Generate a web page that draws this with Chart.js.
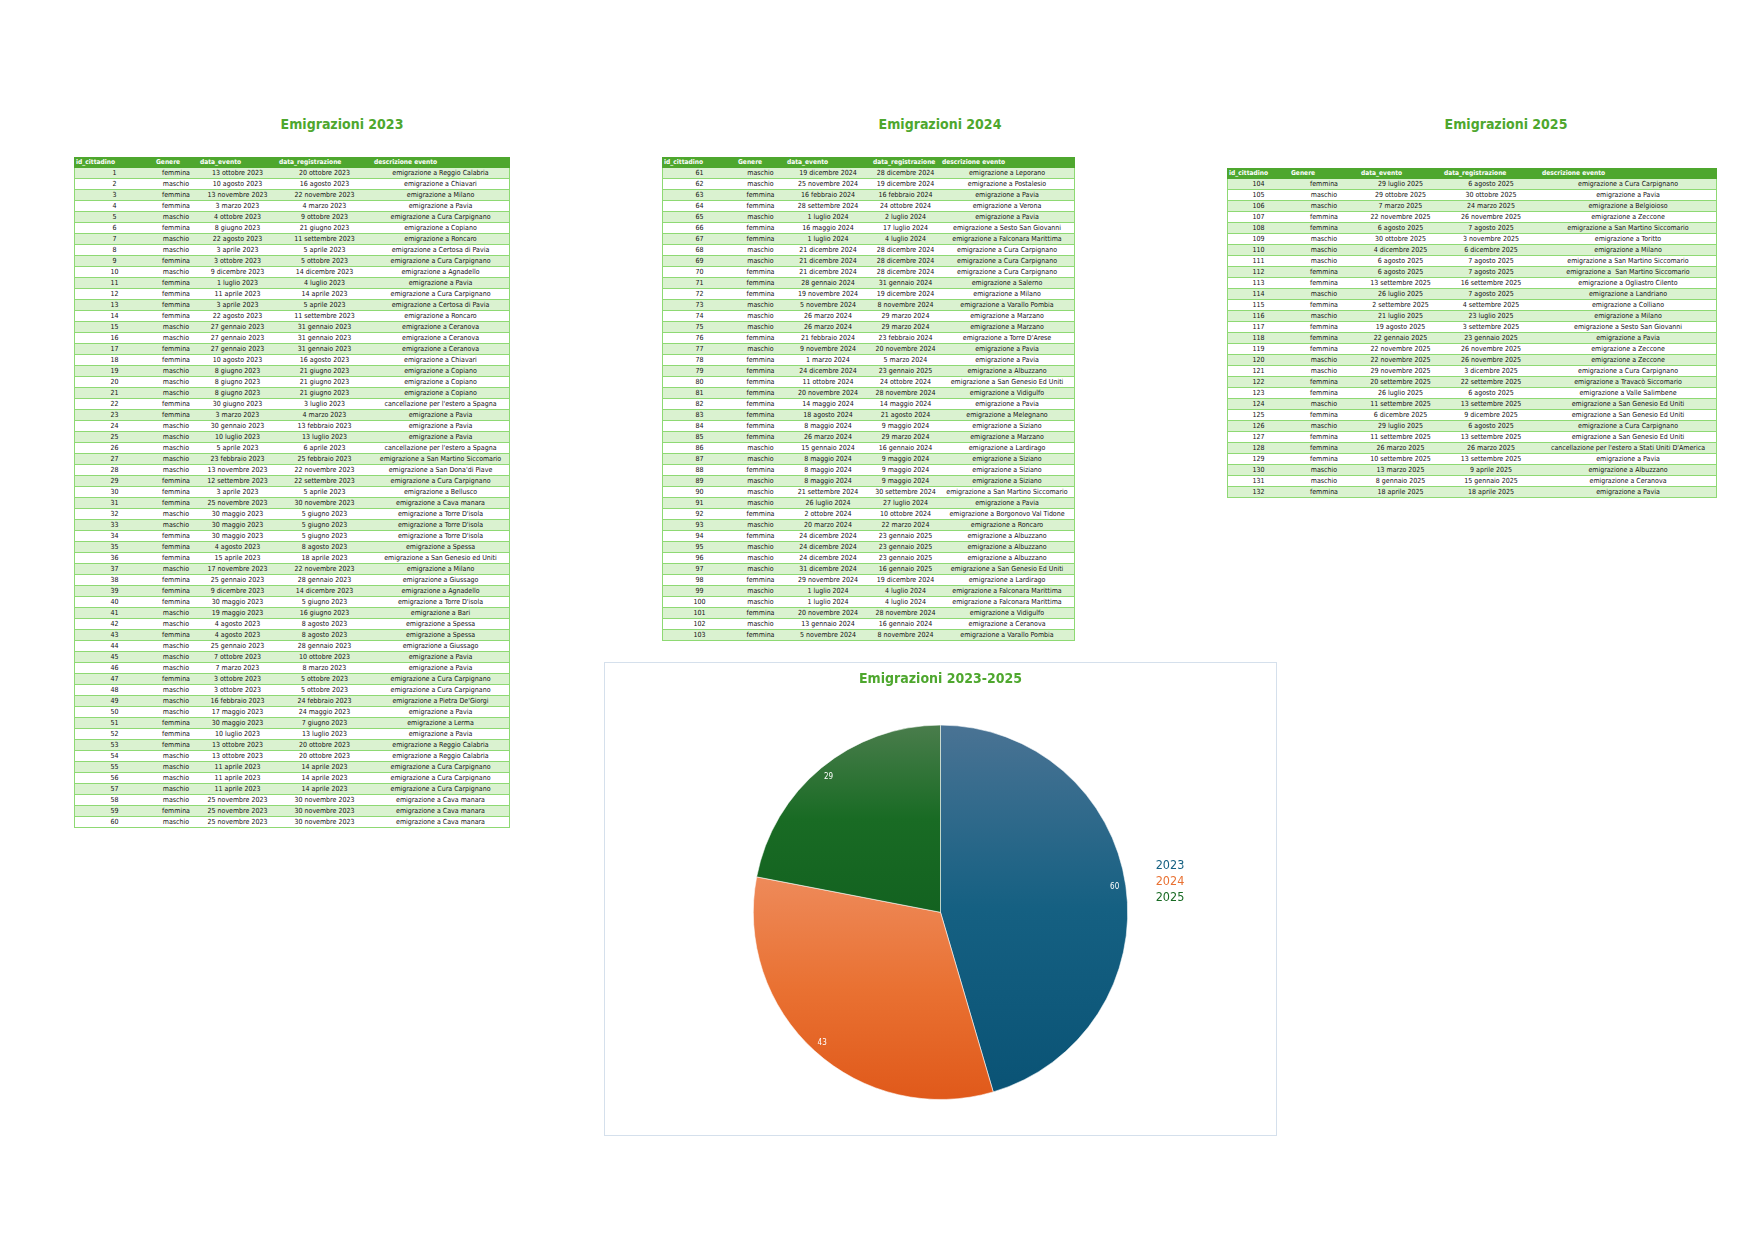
<!DOCTYPE html>
<html lang="it">
<head>
<meta charset="utf-8">
<title>Emigrazioni 2023-2025</title>
<script src="https://cdn.jsdelivr.net/npm/chart.js@4.4.1/dist/chart.umd.min.js"></script>
<style>
  html, body { margin: 0; padding: 0; background: #fff; }
  #pagina { position: relative; width: 1755px; height: 1241px; overflow: hidden; }
  .titolo {
    position: absolute; top: 117px; transform: translateX(-50%);
    font: bold 14px 'DejaVu Sans Condensed', 'Liberation Sans', sans-serif;
    line-height: 14px; color: #4EA72E; white-space: nowrap;
  }
  table.tab {
    position: absolute; border-collapse: separate; border-spacing: 0; table-layout: fixed;
    font-family: 'DejaVu Sans Condensed', 'Liberation Sans', sans-serif;
    font-size: 7px; color: #111;
  }
  table.tab th {
    background: #4EA72E; color: #fff; font-weight: bold; font-size: 6.6px; text-align: left;
    height: 11px; box-sizing: border-box; padding: 0 0 0 2px; line-height: 11px;
    white-space: nowrap; overflow: visible;
  }
  table.tab td {
    height: 11px; box-sizing: border-box; padding: 0; line-height: 10px;
    text-align: center; white-space: nowrap; overflow: visible;
    border-bottom: 1px solid #8ED973; background: #fff;
  }
  table.tab tbody tr:nth-child(odd) td { background: #DAF2D0; }
  table.tab td:first-child { border-left: 1px solid #8ED973; }
  table.tab td:last-child { border-right: 1px solid #8ED973; }
  #boxTorta {
    position: absolute; left: 604px; top: 662px; width: 673px; height: 474px;
    border: 1px solid #D5E0EC; box-sizing: border-box; background: #fff;
  }
  #boxTorta canvas { display: block; }
</style>
</head>
<body>
<div id="pagina">
  <div class="titolo" style="left:342px">Emigrazioni 2023</div>
  <div class="titolo" style="left:940px">Emigrazioni 2024</div>
  <div class="titolo" style="left:1506px">Emigrazioni 2025</div>
  <table class="tab" id="tab2023"></table>
  <table class="tab" id="tab2024"></table>
  <table class="tab" id="tab2025"></table>
  <div id="boxTorta"><canvas id="torta" width="671" height="472"></canvas></div>
</div>
<script>
// intestazioni delle tabelle
var colonne = ['id_cittadino', 'Genere', 'data_evento', 'data_registrazione', 'descrizione evento'];

// righe: id, genere, data evento, data registrazione, descrizione
var righe2023 = [
  [1, 'femmina', '13 ottobre 2023', '20 ottobre 2023', 'emigrazione a Reggio Calabria'],
  [2, 'maschio', '10 agosto 2023', '16 agosto 2023', 'emigrazione a Chiavari'],
  [3, 'femmina', '13 novembre 2023', '22 novembre 2023', 'emigrazione a Milano'],
  [4, 'femmina', '3 marzo 2023', '4 marzo 2023', 'emigrazione a Pavia'],
  [5, 'maschio', '4 ottobre 2023', '9 ottobre 2023', 'emigrazione a Cura Carpignano'],
  [6, 'femmina', '8 giugno 2023', '21 giugno 2023', 'emigrazione a Copiano'],
  [7, 'maschio', '22 agosto 2023', '11 settembre 2023', 'emigrazione a Roncaro'],
  [8, 'maschio', '3 aprile 2023', '5 aprile 2023', 'emigrazione a Certosa di Pavia'],
  [9, 'femmina', '3 ottobre 2023', '5 ottobre 2023', 'emigrazione a Cura Carpignano'],
  [10, 'maschio', '9 dicembre 2023', '14 dicembre 2023', 'emigrazione a Agnadello'],
  [11, 'femmina', '1 luglio 2023', '4 luglio 2023', 'emigrazione a Pavia'],
  [12, 'femmina', '11 aprile 2023', '14 aprile 2023', 'emigrazione a Cura Carpignano'],
  [13, 'femmina', '3 aprile 2023', '5 aprile 2023', 'emigrazione a Certosa di Pavia'],
  [14, 'femmina', '22 agosto 2023', '11 settembre 2023', 'emigrazione a Roncaro'],
  [15, 'maschio', '27 gennaio 2023', '31 gennaio 2023', 'emigrazione a Ceranova'],
  [16, 'maschio', '27 gennaio 2023', '31 gennaio 2023', 'emigrazione a Ceranova'],
  [17, 'femmina', '27 gennaio 2023', '31 gennaio 2023', 'emigrazione a Ceranova'],
  [18, 'femmina', '10 agosto 2023', '16 agosto 2023', 'emigrazione a Chiavari'],
  [19, 'maschio', '8 giugno 2023', '21 giugno 2023', 'emigrazione a Copiano'],
  [20, 'maschio', '8 giugno 2023', '21 giugno 2023', 'emigrazione a Copiano'],
  [21, 'maschio', '8 giugno 2023', '21 giugno 2023', 'emigrazione a Copiano'],
  [22, 'femmina', '30 giugno 2023', '3 luglio 2023', "cancellazione per l'estero a Spagna"],
  [23, 'femmina', '3 marzo 2023', '4 marzo 2023', 'emigrazione a Pavia'],
  [24, 'maschio', '30 gennaio 2023', '13 febbraio 2023', 'emigrazione a Pavia'],
  [25, 'maschio', '10 luglio 2023', '13 luglio 2023', 'emigrazione a Pavia'],
  [26, 'maschio', '5 aprile 2023', '6 aprile 2023', "cancellazione per l'estero a Spagna"],
  [27, 'maschio', '23 febbraio 2023', '25 febbraio 2023', 'emigrazione a San Martino Siccomario'],
  [28, 'maschio', '13 novembre 2023', '22 novembre 2023', "emigrazione a San Dona'di Piave"],
  [29, 'femmina', '12 settembre 2023', '22 settembre 2023', 'emigrazione a Cura Carpignano'],
  [30, 'femmina', '3 aprile 2023', '5 aprile 2023', 'emigrazione a Bellusco'],
  [31, 'femmina', '25 novembre 2023', '30 novembre 2023', 'emigrazione a Cava manara'],
  [32, 'maschio', '30 maggio 2023', '5 giugno 2023', "emigrazione a Torre D'isola"],
  [33, 'maschio', '30 maggio 2023', '5 giugno 2023', "emigrazione a Torre D'isola"],
  [34, 'femmina', '30 maggio 2023', '5 giugno 2023', "emigrazione a Torre D'isola"],
  [35, 'femmina', '4 agosto 2023', '8 agosto 2023', 'emigrazione a Spessa'],
  [36, 'femmina', '15 aprile 2023', '18 aprile 2023', 'emigrazione a San Genesio ed Uniti'],
  [37, 'maschio', '17 novembre 2023', '22 novembre 2023', 'emigrazione a Milano'],
  [38, 'femmina', '25 gennaio 2023', '28 gennaio 2023', 'emigrazione a Giussago'],
  [39, 'femmina', '9 dicembre 2023', '14 dicembre 2023', 'emigrazione a Agnadello'],
  [40, 'femmina', '30 maggio 2023', '5 giugno 2023', "emigrazione a Torre D'isola"],
  [41, 'maschio', '19 maggio 2023', '16 giugno 2023', 'emigrazione a Bari'],
  [42, 'maschio', '4 agosto 2023', '8 agosto 2023', 'emigrazione a Spessa'],
  [43, 'femmina', '4 agosto 2023', '8 agosto 2023', 'emigrazione a Spessa'],
  [44, 'maschio', '25 gennaio 2023', '28 gennaio 2023', 'emigrazione a Giussago'],
  [45, 'maschio', '7 ottobre 2023', '10 ottobre 2023', 'emigrazione a Pavia'],
  [46, 'maschio', '7 marzo 2023', '8 marzo 2023', 'emigrazione a Pavia'],
  [47, 'femmina', '3 ottobre 2023', '5 ottobre 2023', 'emigrazione a Cura Carpignano'],
  [48, 'maschio', '3 ottobre 2023', '5 ottobre 2023', 'emigrazione a Cura Carpignano'],
  [49, 'maschio', '16 febbraio 2023', '24 febbraio 2023', "emigrazione a Pietra De'Giorgi"],
  [50, 'maschio', '17 maggio 2023', '24 maggio 2023', 'emigrazione a Pavia'],
  [51, 'femmina', '30 maggio 2023', '7 giugno 2023', 'emigrazione a Lerma'],
  [52, 'femmina', '10 luglio 2023', '13 luglio 2023', 'emigrazione a Pavia'],
  [53, 'femmina', '13 ottobre 2023', '20 ottobre 2023', 'emigrazione a Reggio Calabria'],
  [54, 'maschio', '13 ottobre 2023', '20 ottobre 2023', 'emigrazione a Reggio Calabria'],
  [55, 'maschio', '11 aprile 2023', '14 aprile 2023', 'emigrazione a Cura Carpignano'],
  [56, 'maschio', '11 aprile 2023', '14 aprile 2023', 'emigrazione a Cura Carpignano'],
  [57, 'maschio', '11 aprile 2023', '14 aprile 2023', 'emigrazione a Cura Carpignano'],
  [58, 'maschio', '25 novembre 2023', '30 novembre 2023', 'emigrazione a Cava manara'],
  [59, 'femmina', '25 novembre 2023', '30 novembre 2023', 'emigrazione a Cava manara'],
  [60, 'maschio', '25 novembre 2023', '30 novembre 2023', 'emigrazione a Cava manara']
];

var righe2024 = [
  [61, 'maschio', '19 dicembre 2024', '28 dicembre 2024', 'emigrazione a Leporano'],
  [62, 'maschio', '25 novembre 2024', '19 dicembre 2024', 'emigrazione a Postalesio'],
  [63, 'femmina', '16 febbraio 2024', '16 febbraio 2024', 'emigrazione a Pavia'],
  [64, 'femmina', '28 settembre 2024', '24 ottobre 2024', 'emigrazione a Verona'],
  [65, 'maschio', '1 luglio 2024', '2 luglio 2024', 'emigrazione a Pavia'],
  [66, 'femmina', '16 maggio 2024', '17 luglio 2024', 'emigrazione a Sesto San Giovanni'],
  [67, 'femmina', '1 luglio 2024', '4 luglio 2024', 'emigrazione a Falconara Marittima'],
  [68, 'maschio', '21 dicembre 2024', '28 dicembre 2024', 'emigrazione a Cura Carpignano'],
  [69, 'maschio', '21 dicembre 2024', '28 dicembre 2024', 'emigrazione a Cura Carpignano'],
  [70, 'femmina', '21 dicembre 2024', '28 dicembre 2024', 'emigrazione a Cura Carpignano'],
  [71, 'femmina', '28 gennaio 2024', '31 gennaio 2024', 'emigrazione a Salerno'],
  [72, 'femmina', '19 novembre 2024', '19 dicembre 2024', 'emigrazione a Milano'],
  [73, 'maschio', '5 novembre 2024', '8 novembre 2024', 'emigrazione a Varallo Pombia'],
  [74, 'maschio', '26 marzo 2024', '29 marzo 2024', 'emigrazione a Marzano'],
  [75, 'maschio', '26 marzo 2024', '29 marzo 2024', 'emigrazione a Marzano'],
  [76, 'femmina', '21 febbraio 2024', '23 febbraio 2024', "emigrazione a Torre D'Arese"],
  [77, 'maschio', '9 novembre 2024', '20 novembre 2024', 'emigrazione a Pavia'],
  [78, 'femmina', '1 marzo 2024', '5 marzo 2024', 'emigrazione a Pavia'],
  [79, 'femmina', '24 dicembre 2024', '23 gennaio 2025', 'emigrazione a Albuzzano'],
  [80, 'femmina', '11 ottobre 2024', '24 ottobre 2024', 'emigrazione a San Genesio Ed Uniti'],
  [81, 'femmina', '20 novembre 2024', '28 novembre 2024', 'emigrazione a Vidigulfo'],
  [82, 'femmina', '14 maggio 2024', '14 maggio 2024', 'emigrazione a Pavia'],
  [83, 'femmina', '18 agosto 2024', '21 agosto 2024', 'emigrazione a Melegnano'],
  [84, 'femmina', '8 maggio 2024', '9 maggio 2024', 'emigrazione a Siziano'],
  [85, 'femmina', '26 marzo 2024', '29 marzo 2024', 'emigrazione a Marzano'],
  [86, 'maschio', '15 gennaio 2024', '16 gennaio 2024', 'emigrazione a Lardirago'],
  [87, 'maschio', '8 maggio 2024', '9 maggio 2024', 'emigrazione a Siziano'],
  [88, 'femmina', '8 maggio 2024', '9 maggio 2024', 'emigrazione a Siziano'],
  [89, 'maschio', '8 maggio 2024', '9 maggio 2024', 'emigrazione a Siziano'],
  [90, 'maschio', '21 settembre 2024', '30 settembre 2024', 'emigrazione a San Martino Siccomario'],
  [91, 'maschio', '26 luglio 2024', '27 luglio 2024', 'emigrazione a Pavia'],
  [92, 'femmina', '2 ottobre 2024', '10 ottobre 2024', 'emigrazione a Borgonovo Val Tidone'],
  [93, 'maschio', '20 marzo 2024', '22 marzo 2024', 'emigrazione a Roncaro'],
  [94, 'femmina', '24 dicembre 2024', '23 gennaio 2025', 'emigrazione a Albuzzano'],
  [95, 'maschio', '24 dicembre 2024', '23 gennaio 2025', 'emigrazione a Albuzzano'],
  [96, 'maschio', '24 dicembre 2024', '23 gennaio 2025', 'emigrazione a Albuzzano'],
  [97, 'maschio', '31 dicembre 2024', '16 gennaio 2025', 'emigrazione a San Genesio Ed Uniti'],
  [98, 'femmina', '29 novembre 2024', '19 dicembre 2024', 'emigrazione a Lardirago'],
  [99, 'maschio', '1 luglio 2024', '4 luglio 2024', 'emigrazione a Falconara Marittima'],
  [100, 'maschio', '1 luglio 2024', '4 luglio 2024', 'emigrazione a Falconara Marittima'],
  [101, 'femmina', '20 novembre 2024', '28 novembre 2024', 'emigrazione a Vidigulfo'],
  [102, 'maschio', '13 gennaio 2024', '16 gennaio 2024', 'emigrazione a Ceranova'],
  [103, 'femmina', '5 novembre 2024', '8 novembre 2024', 'emigrazione a Varallo Pombia']
];

var righe2025 = [
  [104, 'femmina', '29 luglio 2025', '6 agosto 2025', 'emigrazione a Cura Carpignano'],
  [105, 'maschio', '29 ottobre 2025', '30 ottobre 2025', 'emigrazione a Pavia'],
  [106, 'maschio', '7 marzo 2025', '24 marzo 2025', 'emigrazione a Belgioioso'],
  [107, 'femmina', '22 novembre 2025', '26 novembre 2025', 'emigrazione a Zeccone'],
  [108, 'femmina', '6 agosto 2025', '7 agosto 2025', 'emigrazione a San Martino Siccomario'],
  [109, 'maschio', '30 ottobre 2025', '3 novembre 2025', 'emigrazione a Toritto'],
  [110, 'maschio', '4 dicembre 2025', '6 dicembre 2025', 'emigrazione a Milano'],
  [111, 'maschio', '6 agosto 2025', '7 agosto 2025', 'emigrazione a San Martino Siccomario'],
  [112, 'femmina', '6 agosto 2025', '7 agosto 2025', 'emigrazione a  San Martino Siccomario'],
  [113, 'femmina', '13 settembre 2025', '16 settembre 2025', 'emigrazione a Ogliastro Cilento'],
  [114, 'maschio', '26 luglio 2025', '7 agosto 2025', 'emigrazione a Landriano'],
  [115, 'femmina', '2 settembre 2025', '4 settembre 2025', 'emigrazione a Colliano'],
  [116, 'maschio', '21 luglio 2025', '23 luglio 2025', 'emigrazione a Milano'],
  [117, 'femmina', '19 agosto 2025', '3 settembre 2025', 'emigrazione a Sesto San Giovanni'],
  [118, 'femmina', '22 gennaio 2025', '23 gennaio 2025', 'emigrazione a Pavia'],
  [119, 'femmina', '22 novembre 2025', '26 novembre 2025', 'emigrazione a Zeccone'],
  [120, 'maschio', '22 novembre 2025', '26 novembre 2025', 'emigrazione a Zeccone'],
  [121, 'maschio', '29 novembre 2025', '3 dicembre 2025', 'emigrazione a Cura Carpignano'],
  [122, 'femmina', '20 settembre 2025', '22 settembre 2025', 'emigrazione a Travacò Siccomario'],
  [123, 'femmina', '26 luglio 2025', '6 agosto 2025', 'emigrazione a Valle Salimbene'],
  [124, 'maschio', '11 settembre 2025', '13 settembre 2025', 'emigrazione a San Genesio Ed Uniti'],
  [125, 'femmina', '6 dicembre 2025', '9 dicembre 2025', 'emigrazione a San Genesio Ed Uniti'],
  [126, 'maschio', '29 luglio 2025', '6 agosto 2025', 'emigrazione a Cura Carpignano'],
  [127, 'femmina', '11 settembre 2025', '13 settembre 2025', 'emigrazione a San Genesio Ed Uniti'],
  [128, 'femmina', '26 marzo 2025', '26 marzo 2025', "cancellazione per l'estero a Stati Uniti D'America"],
  [129, 'femmina', '10 settembre 2025', '13 settembre 2025', 'emigrazione a Pavia'],
  [130, 'maschio', '13 marzo 2025', '9 aprile 2025', 'emigrazione a Albuzzano'],
  [131, 'maschio', '8 gennaio 2025', '15 gennaio 2025', 'emigrazione a Ceranova'],
  [132, 'femmina', '18 aprile 2025', '18 aprile 2025', 'emigrazione a Pavia']
];

// dati del grafico a torta
var anni = ['2023', '2024', '2025'];
var emigrazioni = [60, 43, 29];

// posizione e larghezza colonne delle tabelle (solo layout)
var layoutTabelle = {
  tab2023: { left: 74, top: 157, col: [80, 44, 79, 95, 138] },
  tab2024: { left: 662, top: 157, col: [74, 49, 86, 69, 135] },
  tab2025: { left: 1227, top: 168, col: [62, 70, 83, 98, 177] }
};

var FONT = "'DejaVu Sans Condensed', 'Liberation Sans', sans-serif";
var coloriBase = ['#156082', '#E97132', '#196B24'];
var coloriChiari = ['#4A7394', '#EE8A5A', '#4A7D4C'];
var coloriScuri = ['#0A5375', '#E0591A', '#136220'];

function costruisciTabella(id, righe) {
  var lay = layoutTabelle[id];
  var tab = document.getElementById(id);
  var tot = lay.col.reduce(function (a, b) { return a + b; }, 0);
  tab.style.left = lay.left + 'px';
  tab.style.top = lay.top + 'px';
  tab.style.width = tot + 'px';
  var html = '<colgroup>' + lay.col.map(function (w) { return '<col style="width:' + w + 'px">'; }).join('') + '</colgroup>';
  html += '<thead><tr>' + colonne.map(function (c) { return '<th>' + c + '</th>'; }).join('') + '</tr></thead><tbody>';
  righe.forEach(function (r) {
    html += '<tr>' + r.map(function (v) { return '<td>' + String(v).replace(/ {2}/g, ' &nbsp;') + '</td>'; }).join('') + '</tr>';
  });
  tab.innerHTML = html + '</tbody>';
}

costruisciTabella('tab2023', righe2023);
costruisciTabella('tab2024', righe2024);
costruisciTabella('tab2025', righe2025);

// sfumatura verticale sul riquadro di ogni fetta
function sfumaturaFetta(ctx) {
  var chart = ctx.chart, area = chart.chartArea, i = ctx.dataIndex;
  if (!area || i === undefined) return coloriBase[i || 0];
  var valori = chart.data.datasets[0].data;
  var tot = valori.reduce(function (a, b) { return a + b; }, 0);
  var prima = 0;
  for (var k = 0; k < i; k++) prima += valori[k];
  var a0 = -Math.PI / 2 + 2 * Math.PI * prima / tot;
  var a1 = a0 + 2 * Math.PI * valori[i] / tot;
  var cy = (area.top + area.bottom) / 2;
  var r = Math.min(area.width, area.height) / 2;
  var ys = [cy, cy + r * Math.sin(a0), cy + r * Math.sin(a1)];
  [Math.PI / 2, -Math.PI / 2, 3 * Math.PI / 2].forEach(function (a) {
    if (a > a0 && a < a1) ys.push(cy + r * Math.sin(a));
  });
  var g = chart.ctx.createLinearGradient(0, Math.min.apply(null, ys), 0, Math.max.apply(null, ys));
  g.addColorStop(0, coloriChiari[i]);
  g.addColorStop(0.5, coloriBase[i]);
  g.addColorStop(1, coloriScuri[i]);
  return g;
}

// valori dentro le fette, vicino al bordo
var pluginEtichette = {
  id: 'etichette',
  afterDatasetsDraw: function (chart) {
    var c = chart.ctx;
    var valori = chart.data.datasets[0].data;
    c.save();
    c.fillStyle = '#ffffff';
    c.font = '8px ' + FONT;
    c.textAlign = 'center';
    c.textBaseline = 'middle';
    chart.getDatasetMeta(0).data.forEach(function (arc, i) {
      var p = arc.getProps(['x', 'y', 'startAngle', 'endAngle', 'outerRadius'], true);
      var m = (p.startAngle + p.endAngle) / 2;
      var rr = p.outerRadius * 0.94;
      c.fillText(String(valori[i]), p.x + rr * Math.cos(m), p.y + rr * Math.sin(m));
    });
    c.restore();
  }
};

// legenda solo testo colorato, a destra della torta
var pluginLegenda = {
  id: 'legendaTesto',
  afterDraw: function (chart) {
    var c = chart.ctx;
    var arc = chart.getDatasetMeta(0).data[0];
    if (!arc) return;
    var p = arc.getProps(['x', 'y', 'outerRadius'], true);
    c.save();
    c.font = '12.5px ' + FONT;
    c.textAlign = 'left';
    c.textBaseline = 'middle';
    chart.data.labels.forEach(function (lab, i) {
      c.fillStyle = coloriBase[i];
      c.fillText(lab, p.x + p.outerRadius + 28, p.y - 47 + i * 16.3);
    });
    c.restore();
  }
};

var torta = new Chart(document.getElementById('torta').getContext('2d'), {
  type: 'pie',
  data: {
    labels: anni,
    datasets: [{
      data: emigrazioni,
      backgroundColor: sfumaturaFetta,
      borderColor: 'rgba(255,255,255,0.55)',
      borderWidth: 1
    }]
  },
  options: {
    responsive: false,
    animation: false,
    layout: { padding: { top: 0, bottom: 35, left: 0, right: 0 } },
    plugins: {
      legend: { display: false },
      tooltip: { enabled: false },
      title: {
        display: true,
        text: 'Emigrazioni 2023-2025',
        color: '#4EA72E',
        font: { family: FONT, size: 14, weight: 'bold' },
        padding: { top: 8.4, bottom: 36.4 }
      }
    }
  },
  plugins: [pluginEtichette, pluginLegenda]
});
</script>
</body>
</html>
